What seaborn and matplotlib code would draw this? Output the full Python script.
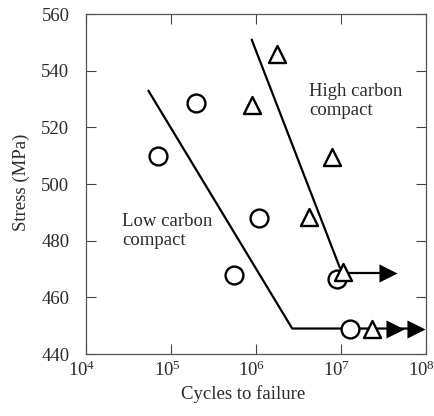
import matplotlib
matplotlib.use("Agg")
import matplotlib.pyplot as plt
import matplotlib.transforms as mtransforms
import seaborn as sns
import pandas as pd
import numpy as np
from matplotlib.ticker import LogLocator, LogFormatterMathtext, NullLocator

# Data
low_N = [7.1e4, 1.97e5, 5.56e5, 1.09e6, 8.9e6, 1.28e7]
low_S = [510, 528.5, 468, 488, 466.5, 449]
high_N = [1.75e6, 8.9e5, 7.9e6, 4.2e6, 1.06e7, 2.3e7]
high_S = [546, 528, 509.5, 488.5, 469, 449]

low_fit_N = [5.4e4, 2.67e6, 7.6e7]
low_fit_S = [533, 449, 449]
high_fit_N = [8.9e5, 9.7e6]
high_fit_S = [551, 470.5]
runout_line_N = [1.06e7, 3.6e7]
runout_line_S = [468.5, 468.5]
arrow_N = [3.6e7, 4.3e7, 7.6e7]
arrow_S = [468.5, 449, 449]

y_ticks = [440, 460, 480, 500, 520, 540, 560]

sns.set_style("ticks")
plt.rcParams['font.family'] = ['Liberation Serif', 'DejaVu Serif']
plt.rcParams['mathtext.fontset'] = 'stix'

FS = 13.5
TXT = '#2b2b2b'

fig = plt.figure(figsize=(4.35, 4.16), dpi=100)
ax = fig.add_axes([0.198, 0.149, 0.781, 0.817])

lw = 1.6
sns.lineplot(x=low_fit_N, y=low_fit_S, ax=ax, color='black', lw=lw, sort=False, estimator=None)
sns.lineplot(x=high_fit_N, y=high_fit_S, ax=ax, color='black', lw=lw, sort=False, estimator=None)
sns.lineplot(x=runout_line_N, y=runout_line_S, ax=ax, color='black', lw=lw, sort=False, estimator=None)

sns.scatterplot(x=low_N, y=low_S, ax=ax, marker='o', s=165, facecolor='white',
                edgecolor='black', linewidth=1.7, zorder=3)
sns.scatterplot(x=high_N, y=high_S, ax=ax, marker='^', s=150, facecolor='white',
                edgecolor='black', linewidth=1.7, zorder=4)
sns.scatterplot(x=arrow_N, y=arrow_S, ax=ax, marker='>', s=170, color='black',
                edgecolor='black', linewidth=0, zorder=5)

ax.set_xscale('log')
ax.set_xlim(1e4, 1e8)
ax.set_ylim(440, 560)
ax.xaxis.set_major_locator(LogLocator(base=10, numticks=10))
ax.xaxis.set_major_formatter(LogFormatterMathtext())
ax.xaxis.set_minor_locator(NullLocator())
ax.set_yticks(y_ticks)

ax.tick_params(direction='in', length=7, width=0.8, top=True, right=True,
               labelsize=FS, colors='#444444', labelcolor=TXT)
ax.tick_params(axis='y', pad=12)
ax.tick_params(axis='x', pad=5)
for sp in ax.spines.values():
    sp.set_visible(True)
    sp.set_color('#555555')
    sp.set_linewidth(0.9)

fig.canvas.draw()
offset = mtransforms.ScaledTranslation(-4 / 100, 0, fig.dpi_scale_trans)
for lab in ax.get_xticklabels():
    lab.set_transform(lab.get_transform() + offset)

ax.set_xlabel('Cycles to failure', fontsize=FS, color=TXT)
ax.xaxis.set_label_coords(0.462, -0.092)
ax.set_ylabel('Stress (MPa)', fontsize=FS, color=TXT)
ax.yaxis.set_label_coords(-0.166, 0.505)

ax.text(4.24e6, 529.2, 'High carbon\ncompact', fontsize=FS, color=TXT,
        ha='left', va='center', linespacing=1.15)
ax.text(2.63e4, 483.6, 'Low carbon\ncompact', fontsize=FS, color=TXT,
        ha='left', va='center', linespacing=1.15)

fig.savefig('out.png', dpi=100)
